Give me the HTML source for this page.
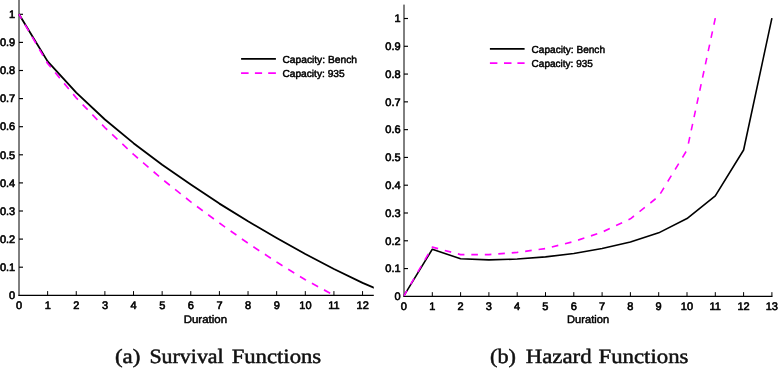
<!DOCTYPE html>
<html><head><meta charset="utf-8"><title>Survival and Hazard Functions</title>
<style>
html,body{margin:0;padding:0;background:#fff;}
body{width:778px;height:368px;overflow:hidden;font-family:"Liberation Sans",sans-serif;}
svg{display:block;will-change:transform;}
text{text-rendering:geometricPrecision;}
</style></head><body>
<svg width="778" height="368" viewBox="0 0 778 368">
<rect width="778" height="368" fill="#fff"/>
<defs><clipPath id="cl"><rect x="0" y="0" width="373.8" height="368"/></clipPath></defs>
<g clip-path="url(#cl)">
<g stroke="#000" stroke-width="1.15" fill="none">
<path d="M19.0 -2 V295.88" stroke-width="1.0"/>
<path d="M18.43 295.3 H380"/>
<path d="M47.63 295.3 v-4.2" stroke-width="1.0"/>
<path d="M76.26 295.3 v-4.2" stroke-width="1.0"/>
<path d="M104.89 295.3 v-4.2" stroke-width="1.0"/>
<path d="M133.52 295.3 v-4.2" stroke-width="1.0"/>
<path d="M162.15 295.3 v-4.2" stroke-width="1.0"/>
<path d="M190.78 295.3 v-4.2" stroke-width="1.0"/>
<path d="M219.41 295.3 v-4.2" stroke-width="1.0"/>
<path d="M248.04 295.3 v-4.2" stroke-width="1.0"/>
<path d="M276.67 295.3 v-4.2" stroke-width="1.0"/>
<path d="M305.30 295.3 v-4.2" stroke-width="1.0"/>
<path d="M333.93 295.3 v-4.2" stroke-width="1.0"/>
<path d="M362.56 295.3 v-4.2" stroke-width="1.0"/>
<path d="M391.19 295.3 v-4.2" stroke-width="1.0"/>
<path d="M19.0 267.20 h4"/>
<path d="M19.0 239.10 h4"/>
<path d="M19.0 211.00 h4"/>
<path d="M19.0 182.90 h4"/>
<path d="M19.0 154.80 h4"/>
<path d="M19.0 126.70 h4"/>
<path d="M19.0 98.60 h4"/>
<path d="M19.0 70.50 h4"/>
<path d="M19.0 42.40 h4"/>
<path d="M19.0 14.30 h4"/>
</g>
<path d="M19.00 14.30 L47.63 61.37 L76.26 92.62 L104.89 119.49 L133.52 143.17 L162.15 164.72 L190.78 184.60 L219.41 203.61 L248.04 221.29 L276.67 238.05 L305.30 254.06 L333.93 268.97 L362.56 282.87 L391.19 295.30" stroke="#000" stroke-width="1.82" fill="none" stroke-linejoin="round"/>
<g transform="scale(1,1.066)"><path d="M19.00 13.415 L47.63 59.545 L76.26 91.863 L104.89 119.680 L133.52 144.860 L162.15 168.015 L190.78 189.367 L219.41 209.267 L248.04 228.216 L276.67 245.864 L305.30 262.336 L333.93 277.017" stroke="#ff00ff" stroke-width="1.62" fill="none" stroke-dasharray="7.0 6.57" stroke-dashoffset="2.2" stroke-linejoin="round"/></g>
</g>
<g font-family="Liberation Sans, sans-serif" font-size="11.0" fill="#000" stroke="#000" stroke-width="0.62" stroke-linejoin="round">
<g clip-path="url(#cl)">
<text x="19.10" y="309.3" text-anchor="middle">0</text>
<text x="47.73" y="309.3" text-anchor="middle">1</text>
<text x="76.36" y="309.3" text-anchor="middle">2</text>
<text x="104.99" y="309.3" text-anchor="middle">3</text>
<text x="133.62" y="309.3" text-anchor="middle">4</text>
<text x="162.25" y="309.3" text-anchor="middle">5</text>
<text x="190.88" y="309.3" text-anchor="middle">6</text>
<text x="219.51" y="309.3" text-anchor="middle">7</text>
<text x="248.14" y="309.3" text-anchor="middle">8</text>
<text x="276.77" y="309.3" text-anchor="middle">9</text>
<text x="305.40" y="309.3" text-anchor="middle">10</text>
<text x="334.03" y="309.3" text-anchor="middle">11</text>
<text x="362.66" y="309.3" text-anchor="middle">12</text>
<text x="391.29" y="309.3" text-anchor="middle">13</text>
</g>
<text x="15.2" y="299.05" text-anchor="end">0</text>
<text x="15.2" y="270.95" text-anchor="end">0.1</text>
<text x="15.2" y="242.85" text-anchor="end">0.2</text>
<text x="15.2" y="214.75" text-anchor="end">0.3</text>
<text x="15.2" y="186.65" text-anchor="end">0.4</text>
<text x="15.2" y="158.55" text-anchor="end">0.5</text>
<text x="15.2" y="130.45" text-anchor="end">0.6</text>
<text x="15.2" y="102.35" text-anchor="end">0.7</text>
<text x="15.2" y="74.25" text-anchor="end">0.8</text>
<text x="15.2" y="46.15" text-anchor="end">0.9</text>
<text x="15.2" y="18.05" text-anchor="end">1</text>
<text stroke-width="0.48" x="205.4" y="323.1" text-anchor="middle" textLength="43.4" lengthAdjust="spacingAndGlyphs">Duration</text>
<text stroke-width="0.48" font-size="10.2" x="282.4" y="63.0" textLength="74.6" lengthAdjust="spacingAndGlyphs">Capacity: Bench</text>
<text stroke-width="0.48" font-size="10.2" x="282.4" y="77.0" textLength="62.3" lengthAdjust="spacingAndGlyphs">Capacity: 935</text>
</g>
<path d="M241.1 58.9 H275.9" stroke="#000" stroke-width="1.75"/>
<path d="M241.05 73.1 H275.9" stroke="#ff00ff" stroke-width="1.7" stroke-dasharray="7.55 6.3 7.2 6.1 7.7 100"/>
<g stroke="#000" stroke-width="1.15" fill="none">
<path d="M404.0 4.61 V296.93" stroke-width="1.0"/>
<path d="M403.43 296.35 H772.48"/>
<path d="M432.30 296.35 v-4.2" stroke-width="1.0"/>
<path d="M460.60 296.35 v-4.2" stroke-width="1.0"/>
<path d="M488.90 296.35 v-4.2" stroke-width="1.0"/>
<path d="M517.20 296.35 v-4.2" stroke-width="1.0"/>
<path d="M545.50 296.35 v-4.2" stroke-width="1.0"/>
<path d="M573.80 296.35 v-4.2" stroke-width="1.0"/>
<path d="M602.10 296.35 v-4.2" stroke-width="1.0"/>
<path d="M630.40 296.35 v-4.2" stroke-width="1.0"/>
<path d="M658.70 296.35 v-4.2" stroke-width="1.0"/>
<path d="M687.00 296.35 v-4.2" stroke-width="1.0"/>
<path d="M715.30 296.35 v-4.2" stroke-width="1.0"/>
<path d="M743.60 296.35 v-4.2" stroke-width="1.0"/>
<path d="M771.90 296.35 v-4.2" stroke-width="1.0"/>
<path d="M404.0 268.56 h4"/>
<path d="M404.0 240.78 h4"/>
<path d="M404.0 213.00 h4"/>
<path d="M404.0 185.21 h4"/>
<path d="M404.0 157.43 h4"/>
<path d="M404.0 129.64 h4"/>
<path d="M404.0 101.85 h4"/>
<path d="M404.0 74.07 h4"/>
<path d="M404.0 46.29 h4"/>
<path d="M404.0 18.50 h4"/>
</g>
<path d="M404.00 295.70 L432.30 249.22 L460.60 258.79 L488.90 259.90 L517.20 259.07 L545.50 256.85 L573.80 253.52 L602.10 248.52 L630.40 242.00 L658.70 232.85 L687.00 218.55 L715.30 195.80 L743.60 150.01 L771.90 18.20" stroke="#000" stroke-width="1.6" fill="none" stroke-linejoin="round"/>
<g transform="scale(1,1.066)"><path d="M404.00 277.392 L432.30 231.836 L460.60 238.865 L488.90 238.865 L517.20 236.782 L545.50 233.138 L573.80 226.630 L602.10 217.779 L630.40 205.284 L658.70 184.198 L687.00 140.725" stroke="#ff00ff" stroke-width="1.57" fill="none" stroke-dasharray="6.6 6.9" stroke-dashoffset="1.0" stroke-linejoin="round"/></g>
<path d="M715.30 18.20 L687.00 150.01" stroke="#ff00ff" stroke-width="1.6" fill="none" stroke-dasharray="6.7 6.8" stroke-dashoffset="0"/>
<g font-family="Liberation Sans, sans-serif" font-size="11.0" fill="#000" stroke="#000" stroke-width="0.62" stroke-linejoin="round">
<text x="403.90" y="309.9" text-anchor="middle">0</text>
<text x="432.20" y="309.9" text-anchor="middle">1</text>
<text x="460.50" y="309.9" text-anchor="middle">2</text>
<text x="488.80" y="309.9" text-anchor="middle">3</text>
<text x="517.10" y="309.9" text-anchor="middle">4</text>
<text x="545.40" y="309.9" text-anchor="middle">5</text>
<text x="573.70" y="309.9" text-anchor="middle">6</text>
<text x="602.00" y="309.9" text-anchor="middle">7</text>
<text x="630.30" y="309.9" text-anchor="middle">8</text>
<text x="658.60" y="309.9" text-anchor="middle">9</text>
<text x="686.90" y="309.9" text-anchor="middle">10</text>
<text x="715.20" y="309.9" text-anchor="middle">11</text>
<text x="743.50" y="309.9" text-anchor="middle">12</text>
<text x="771.80" y="309.9" text-anchor="middle">13</text>
<text x="400.6" y="300.15" text-anchor="end">0</text>
<text x="400.6" y="272.37" text-anchor="end">0.1</text>
<text x="400.6" y="244.58" text-anchor="end">0.2</text>
<text x="400.6" y="216.80" text-anchor="end">0.3</text>
<text x="400.6" y="189.01" text-anchor="end">0.4</text>
<text x="400.6" y="161.23" text-anchor="end">0.5</text>
<text x="400.6" y="133.44" text-anchor="end">0.6</text>
<text x="400.6" y="105.65" text-anchor="end">0.7</text>
<text x="400.6" y="77.87" text-anchor="end">0.8</text>
<text x="400.6" y="50.09" text-anchor="end">0.9</text>
<text x="400.6" y="22.30" text-anchor="end">1</text>
<text stroke-width="0.48" x="588.1" y="323.4" text-anchor="middle" textLength="42.0" lengthAdjust="spacingAndGlyphs">Duration</text>
<text stroke-width="0.48" font-size="10.2" x="531.6" y="53.0" textLength="73.4" lengthAdjust="spacingAndGlyphs">Capacity: Bench</text>
<text stroke-width="0.48" font-size="10.2" x="531.6" y="67.0" textLength="61.3" lengthAdjust="spacingAndGlyphs">Capacity: 935</text>
</g>
<path d="M489.9 48.9 H524.6" stroke="#000" stroke-width="1.7"/>
<path d="M489.9 63.1 H524.6" stroke="#ff00ff" stroke-width="1.65" stroke-dasharray="7.5 6.6 7.5 5.9 7.2 100"/>
<g font-family="Liberation Serif, serif" font-size="20.4" fill="#111" stroke="#111" stroke-width="0.5" stroke-linejoin="round">
<text x="115.00" y="363.1" textLength="25.40" lengthAdjust="spacingAndGlyphs">(a)</text>
<text x="149.40" y="363.1" textLength="74.30" lengthAdjust="spacingAndGlyphs">Survival</text>
<text x="231.65" y="363.1" textLength="89.55" lengthAdjust="spacingAndGlyphs">Functions</text>
<text x="490.05" y="363.1" textLength="25.95" lengthAdjust="spacingAndGlyphs">(b)</text>
<text x="525.70" y="363.1" textLength="65.90" lengthAdjust="spacingAndGlyphs">Hazard</text>
<text x="598.50" y="363.1" textLength="89.90" lengthAdjust="spacingAndGlyphs">Functions</text>
</g>
</svg>
</body></html>
